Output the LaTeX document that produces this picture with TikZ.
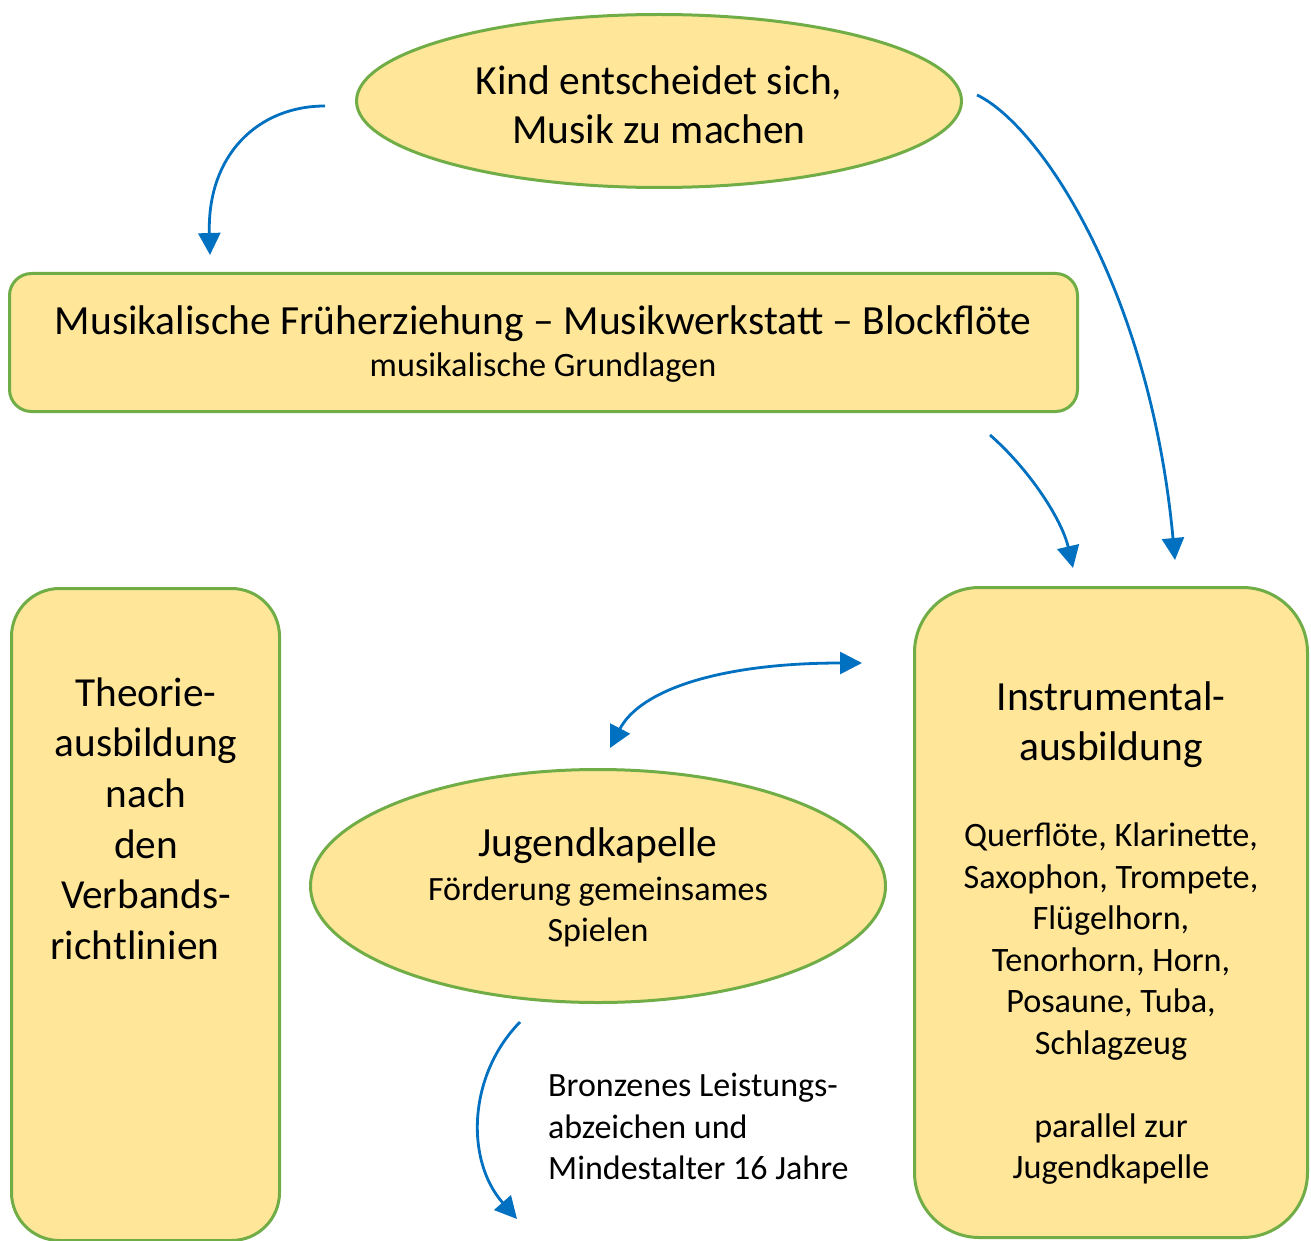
\documentclass[tikz,border=0pt]{standalone}
\usepackage{fontspec}
\setmainfont{Carlito}
\usetikzlibrary{shapes.geometric,arrows.meta}
\definecolor{fillc}{HTML}{FFE699}
\definecolor{edgec}{HTML}{70AD47}
\definecolor{arrc}{HTML}{0070C0}
\begin{document}
\begin{tikzpicture}[x=1pt,y=-1pt,
  shapebox/.style={draw=edgec,fill=fillc,line width=3pt,inner sep=0pt},
  flow/.style={draw=arrc,line width=2.8pt,-{Triangle[length=22pt,width=22pt]}},
  flowboth/.style={draw=arrc,line width=2.8pt,{Triangle[length=22pt,width=22pt]}-{Triangle[length=22pt,width=22pt]}},
  bigf/.style={font=\fontsize{41.5}{49}\selectfont},
  smallf/.style={font=\fontsize{34.2}{41.3}\selectfont},
  tl/.style={inner sep=0pt,anchor=north,align=center},
  tb/.style={inner sep=0pt,anchor=base}]
\useasboundingbox (0,0) rectangle (1311,1241);

% shapes
\node[shapebox,ellipse,minimum width=605pt,minimum height=173pt] (kind) at (659,101) {};
\node[shapebox,rectangle,rounded corners=22pt,minimum width=1068pt,minimum height=138pt] (frueh) at (543.5,342.5) {};
\node[shapebox,rectangle,rounded corners=48pt,minimum width=268pt,minimum height=652pt] (theorie) at (145.5,914.5) {};
\node[shapebox,rectangle,rounded corners=65pt,minimum width=393pt,minimum height=650pt] (instr) at (1111,912.5) {};
\node[shapebox,ellipse,minimum width=575pt,minimum height=233pt] (jugend) at (598,886) {};

% texts
\node[tl,bigf] (kindt) at (659,60.4) {\strut Kind entscheidet sich,\\Musik zu machen};
\node[tb,bigf] (fruehA) at (543,334.3) {Musikalische Früherziehung – Musikwerkstatt – Blockflöte};
\node[tb,smallf] (fruehB) at (543,376) {musikalische Grundlagen};
\node[tl,font=\fontsize{41.3}{50.7}\selectfont] (theoriet) at (146,670.5)
  {\strut Theorie-\\ausbildung\\nach\\den\\Verbands-\\richtlinien\hspace*{22pt}};
\node[tl,font=\fontsize{41.5}{49.3}\selectfont] (instrA) at (1111,676.2) {\strut Instrumental-\\ausbildung};
\node[tl,smallf,font=\fontsize{34.2}{41.5}\selectfont] (instrB) at (1111,817.6)
  {\strut Querflöte, Klarinette,\\Saxophon, Trompete,\\Flügelhorn,\\Tenorhorn, Horn,\\Posaune, Tuba,\\Schlagzeug\\\strut\\parallel zur\\Jugendkapelle};
\node[tb,bigf] (jugendA) at (598,856.5) {Jugendkapelle};
\node[tl,font=\fontsize{34}{41}\selectfont] (jugendB) at (598,871.4) {\strut Förderung gemeinsames\\Spielen};
\node[inner sep=0pt,anchor=north west,align=left,font=\fontsize{34}{41.7}\selectfont] (bronze) at (548,1067.1)
  {\strut Bronzenes Leistungs-\\abzeichen und\\Mindestalter 16 Jahre};

% connector end points
\coordinate (a1s) at (325,106);
\coordinate (a1e) at (210,255);
\coordinate (a2s) at (977,95);
\coordinate (a2e) at (1175,560);
\coordinate (a3s) at (990,435);
\coordinate (a3e) at (1073,568);
\coordinate (a4s) at (862,663);
\coordinate (a4e) at (610,748);
\coordinate (a5s) at (520,1022);
\coordinate (a5e) at (517,1219);

\draw[flow] (a1s) .. controls (258,106) and (207,155) .. (a1e);
\draw[flow] (a2s) .. controls (1040,125) and (1150,290) .. (a2e);
\draw[flow] (a3s) .. controls (1030,470) and (1062,520) .. (a3e);
\draw[flowboth] (a4s) .. controls (720,663) and (640,690) .. (a4e);
\draw[flow] (a5s) .. controls (468,1075) and (465,1160) .. (a5e);
\end{tikzpicture}
\end{document}
